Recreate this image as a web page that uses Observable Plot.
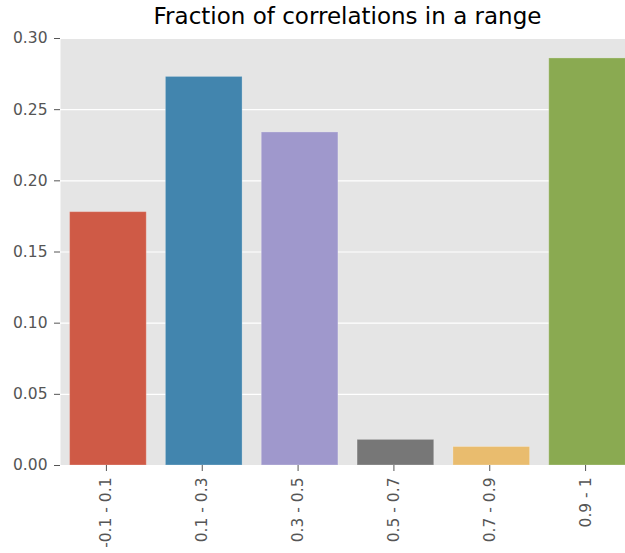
<!DOCTYPE html>
<html>
<head>
<meta charset="utf-8">
<script src="https://cdn.jsdelivr.net/npm/d3@7"></script>
<script src="https://cdn.jsdelivr.net/npm/@observablehq/plot@0.6"></script>
<style>
  html, body { margin: 0; padding: 0; background: #fff; overflow: hidden; width: 625px; height: 553px; }
  #wrap { position: relative; width: 625px; height: 553px; overflow: hidden; }
  #title { position: absolute; top: 3px; left: 60px; width: 575px; text-align: center;
           font-family: "DejaVu Sans", sans-serif; font-size: 23px; color: #000; white-space: nowrap; }
  #wrap svg { font-family: "DejaVu Sans", sans-serif; max-width: none !important; position: absolute; left: 0; top: 0; }
</style>
</head>
<body>
<div id="wrap"><div id="title">Fraction of correlations in a range</div></div>
<script>
const categories = ["-0.1 - 0.1", "0.1 - 0.3", "0.3 - 0.5", "0.5 - 0.7", "0.7 - 0.9", "0.9 - 1"];
const values = [0.178, 0.273, 0.234, 0.018, 0.013, 0.286];
const colors = ["#CF5A46", "#4285AE", "#9F98CC", "#777777", "#E9BC6E", "#8AAA51"];
const yTicks = [0, 0.05, 0.10, 0.15, 0.20, 0.25, 0.30];

const data = categories.map((c, i) => ({cat: c, value: values[i], color: colors[i]}));

const chart = Plot.plot({
  width: 637,
  height: 553,
  marginTop: 38,
  marginBottom: 88,
  marginLeft: 60,
  marginRight: 2,
  style: {fontSize: "15.5px", color: "#555", background: "transparent", maxWidth: "none"},
  x: {domain: categories, paddingInner: 0.2, paddingOuter: 0.1, round: false, label: null},
  y: {domain: [0, 0.30], label: null},
  marks: [
    Plot.frame({fill: "#E5E5E5", stroke: null}),
    Plot.gridY(yTicks, {stroke: "#fff", strokeOpacity: 1, strokeWidth: 1.2}),
    Plot.barY(data, {x: "cat", y: "value", fill: "color", stroke: "#fff", strokeOpacity: 0.25, strokeWidth: 1}),
    Plot.axisY({ticks: yTicks, tickFormat: d3.format(".2f"), tickSize: 6, tickPadding: 7, label: null}),
    Plot.axisX({tickRotate: -90, tickSize: 6, tickPadding: 6, dx: -2, label: null})
  ]
});
document.getElementById("wrap").appendChild(chart);
</script>
</body>
</html>
